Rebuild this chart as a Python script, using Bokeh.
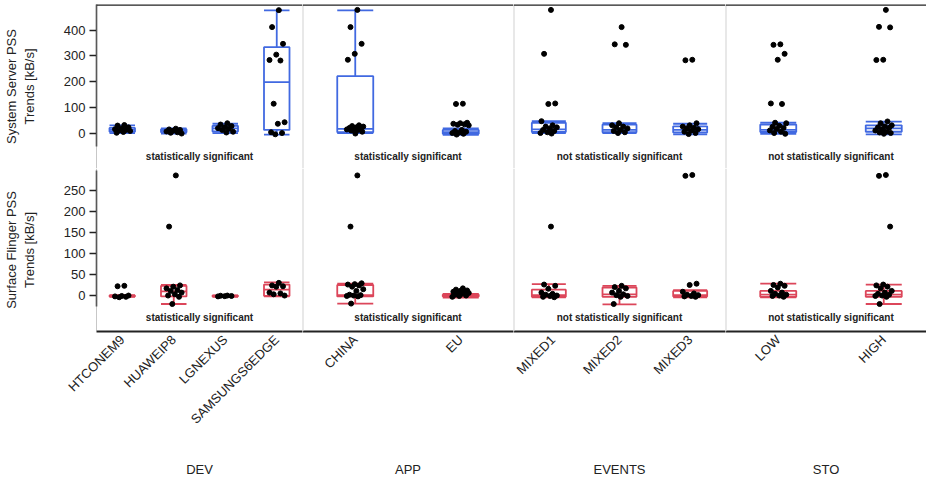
import math
from bokeh.plotting import figure
from bokeh.layouts import column, row
from bokeh.models import Range1d, FixedTicker, Span
from bokeh.core.properties import value
from bokeh.embed import file_html
from bokeh.resources import INLINE

# ---------------- data ----------------
GROUPS = ["DEV", "APP", "EVENTS", "STO"]
DEV_CATS = ["HTCONEM9", "HUAWEIP8", "LGNEXUS", "SAMSUNGS6EDGE"]
APP_CATS = ["CHINA", "EU"]
EVENTS_CATS = ["MIXED1", "MIXED2", "MIXED3"]
STO_CATS = ["LOW", "HIGH"]
GROUP_CATS = [DEV_CATS, APP_CATS, EVENTS_CATS, STO_CATS]
SIGNIFICANCE = ["statistically significant", "statistically significant",
                "not statistically significant", "not statistically significant"]
ROW_TITLES = ["System Server PSS\nTrends [kB/s]", "Surface Flinger PSS\nTrends [kB/s]"]
SS_TICKS = [0, 100, 200, 300, 400]
SF_TICKS = [0, 50, 100, 150, 200, 250]

# System Server PSS box statistics (category order: DEV, APP, EVENTS, STO)
SS_LOW = [0, -2, 0, -6, 0, -7, 0, 0, -5, -3, -5]
SS_Q1 = [5, 3, 6, 12, 3, -3, 4, 3, 2, 4, 5]
SS_MED = [12, 8, 18, 198, 16, 3, 14, 12, 12, 12, 18]
SS_Q3 = [20, 15, 28, 334, 221, 12, 40, 33, 26, 33, 30]
SS_HIGH = [30, 18, 36, 477, 477, 18, 46, 38, 36, 40, 44]
SS_POINTS = {
    "HTCONEM9": [31, 29, 22, 18, 15, 12, 10, 8, 4, 1],
    "HUAWEIP8": [17, 14, 12, 9, 6, 3, 1, -2],
    "LGNEXUS": [38, 33, 27, 22, 19, 17, 12, 5, 2],
    "SAMSUNGS6EDGE": [478, 412, 347, 305, 284, 282, 114, 42, 36, 3, 0, -5],
    "CHINA": [479, 412, 347, 308, 285, 30, 27, 25, 22, 20, 18, 16, 14, 12, 10, 5, -2],
    "EU": [114, 113, 40, 38, 36, 34, 32, 30, 12, 8, 5, 2, 0, -3, -6],
    "MIXED1": [479, 308, 115, 113, 46, 30, 25, 22, 18, 12, 8, 3, 0, -2],
    "MIXED2": [412, 345, 343, 38, 30, 25, 22, 18, 12, 8, 3, 0],
    "MIXED3": [285, 283, 38, 30, 25, 20, 18, 15, 10, 5, 0, -4],
    "LOW": [345, 343, 308, 285, 115, 113, 40, 38, 28, 24, 20, 16, 10, 5, 0, -3],
    "HIGH": [479, 413, 411, 285, 284, 45, 38, 30, 25, 22, 20, 15, 10, 5, 2, 0, -3],
}

# Surface Flinger PSS box statistics
SF_LOW = [-2, -19, -2, -1, -18, -4, -3, -20, -3, -3, -19]
SF_Q1 = [-1, -1, -1, 0, -1, -1, -2, -2, -1, -2, -2]
SF_MED = [0, 11, 0, 15, 2, 1, 2, 4, 2, 3, 3]
SF_Q3 = [1, 24, 1, 27, 26, 3, 15, 20, 12, 12, 12]
SF_HIGH = [2, 26, 1.5, 32, 29, 5, 28, 24, 14, 29, 27]
SF_POINTS = {
    "HTCONEM9": [24, 23, 1, 0, -1, -2, -3],
    "HUAWEIP8": [285, 164, 25, 22, 18, 14, 12, 8, 4, 1, -2, -19],
    "LGNEXUS": [1, 0.5, 0, -0.5, -1],
    "SAMSUNGS6EDGE": [31, 25, 23, 22, 8, 6, 4, 1],
    "CHINA": [285, 164, 30, 28, 27, 25, 22, 16, 12, 3, 2, 1, 0, -1, -18],
    "EU": [18, 15, 13, 12, 10, 9, 8, 7, 5, 3, 1, 0, -2],
    "MIXED1": [164, 27, 24, 17, 8, 5, 3, 1, 0, -2, -3],
    "MIXED2": [24, 21, 18, 12, 8, 4, 2, 0, -2, -19],
    "MIXED3": [286, 284, 29, 26, 10, 6, 3, 2, 0, -1, -2],
    "LOW": [29, 26, 24, 20, 12, 8, 5, 3, 1, 0, -2],
    "HIGH": [286, 284, 164, 27, 25, 22, 18, 12, 8, 5, 3, 1, 0, -2, -19],
}

# ---------------- layout / style ----------------
FONT = "Liberation Sans"
INK = "#222222"
BLUE = "#4169e1"
RED = "#dc465a"
NOMINAL_PANEL_W = [210, 211, 212, 211]
VISIBLE_PANEL_W = [210, 211, 212, 201]
LEFT_W = 92
TOP_PAD = 4
TOP_FRAME_H = 164
BOT_FRAME_H = 165
BOT_AXIS_H = 147
BOX_PX = [26, 36, 34, 36]
JITTER_PX = 9
GROUP_LABEL_STANDOFF = [27, 82, 77, 88]

ROWS = [
    dict(low=SS_LOW, q1=SS_Q1, med=SS_MED, q3=SS_Q3, high=SS_HIGH, pts=SS_POINTS,
         color=BLUE, yr=(-138, 500), bounds=(-52, 500), ticks=SS_TICKS, text_y=-91),
    dict(low=SF_LOW, q1=SF_Q1, med=SF_MED, q3=SF_Q3, high=SF_HIGH, pts=SF_POINTS,
         color=RED, yr=(-84, 301.4), bounds=(-26, 297), ticks=SF_TICKS, text_y=-51),
]


def golden(k):
    return ((k + 1) * 0.6180339887498949) % 1.0 - 0.5


def build(row_i, gi):
    cfg = ROWS[row_i]
    cats = GROUP_CATS[gi]
    n = len(cats)
    off = sum(len(c) for c in GROUP_CATS[:gi])
    unit_px = NOMINAL_PANEL_W[gi] / n
    x_end = VISIBLE_PANEL_W[gi] / unit_px
    left = gi == 0
    bottom = row_i == 1

    p = figure(width=VISIBLE_PANEL_W[gi] + (LEFT_W if left else 0),
               height=(BOT_FRAME_H + BOT_AXIS_H) if bottom else (TOP_FRAME_H + TOP_PAD),
               x_range=Range1d(0, x_end), y_range=Range1d(*cfg["yr"]),
               x_axis_location="below" if bottom else None,
               y_axis_location="left" if left else None,
               tools="", toolbar_location=None, output_backend="svg",
               min_border=0,
               min_border_left=LEFT_W if left else 0,
               min_border_bottom=BOT_AXIS_H if bottom else 0,
               min_border_top=0 if bottom else TOP_PAD, min_border_right=0)
    p.outline_line_color = None
    p.background_fill_color = "white"
    p.border_fill_color = "white"
    for g in p.grid:
        g.visible = False

    # panel dividers
    p.add_layout(Span(location=0, dimension="height",
                      line_color="#8f8f8f" if left else "#d2d2d2",
                      line_width=1 if left else 2))
    if not bottom:
        p.add_layout(Span(location=cfg["yr"][1], dimension="width",
                          line_color=INK, line_width=2.5))

    xs = [i + 0.5 for i in range(n)]
    half = BOX_PX[gi] / unit_px / 2
    lefts = [x - half for x in xs]
    rights = [x + half for x in xs]
    low = cfg["low"][off:off + n]
    q1 = cfg["q1"][off:off + n]
    med = cfg["med"][off:off + n]
    q3 = cfg["q3"][off:off + n]
    high = cfg["high"][off:off + n]
    col = cfg["color"]
    lw = 1.8
    p.segment(x0=xs, y0=q3, x1=xs, y1=high, line_color=col, line_width=lw)
    p.segment(x0=xs, y0=low, x1=xs, y1=q1, line_color=col, line_width=lw)
    p.segment(x0=lefts, y0=high, x1=rights, y1=high, line_color=col, line_width=lw)
    p.segment(x0=lefts, y0=low, x1=rights, y1=low, line_color=col, line_width=lw)
    p.quad(left=lefts, right=rights, bottom=q1, top=q3, fill_color=None,
           line_color=col, line_width=lw)
    p.segment(x0=lefts, y0=med, x1=rights, y1=med, line_color=col, line_width=lw)

    px, py = [], []
    for i, c in enumerate(cats):
        for k, v in enumerate(cfg["pts"][c]):
            px.append(xs[i] + golden(k) * 2 * JITTER_PX / unit_px)
            py.append(v)
    p.scatter(px, py, size=5, fill_color="black", line_color="black")

    p.text(x=[n / 2], y=[cfg["text_y"]], text=[SIGNIFICANCE[gi]],
           text_font=value(FONT), text_font_size="10px", text_font_style="bold",
           text_align="center", text_baseline="middle", text_color=INK)

    if left:
        ax = p.yaxis[0]
        ax.ticker = FixedTicker(ticks=cfg["ticks"])
        ax.bounds = cfg["bounds"]
        ax.axis_label = ROW_TITLES[row_i]
        ax.axis_label_text_font = FONT
        ax.axis_label_text_font_size = "13px"
        ax.axis_label_text_font_style = "normal"
        ax.axis_label_text_color = INK
        ax.axis_label_standoff = 24
        ax.major_label_text_font = FONT
        ax.major_label_text_font_size = "13px"
        ax.major_label_text_color = INK
        ax.major_label_standoff = 4
        ax.major_tick_out = 7
        ax.major_tick_in = 0
        ax.major_tick_line_color = INK
        ax.major_tick_line_width = 1.5
        ax.minor_tick_line_color = None
        ax.axis_line_color = INK
        ax.axis_line_width = 1.5

    if bottom:
        xa = p.xaxis[0]
        xa.ticker = FixedTicker(ticks=xs)
        xa.major_label_overrides = {x: c for x, c in zip(xs, cats)}
        xa.major_label_orientation = math.pi / 4
        xa.major_label_text_font = FONT
        xa.major_label_text_font_size = "13px"
        xa.major_label_text_color = INK
        xa.major_label_standoff = 6
        xa.major_tick_out = 0
        xa.major_tick_in = 0
        xa.major_tick_line_color = None
        xa.minor_tick_line_color = None
        xa.axis_line_color = INK
        xa.axis_line_width = 2
        xa.axis_label = GROUPS[gi]
        xa.axis_label_text_font = FONT
        xa.axis_label_text_font_size = "13px"
        xa.axis_label_text_font_style = "normal"
        xa.axis_label_text_color = INK
        xa.axis_label_standoff = GROUP_LABEL_STANDOFF[gi]
    return p


top = [build(0, gi) for gi in range(4)]
bot = [build(1, gi) for gi in range(4)]
layout = column(row(*top), row(*bot))

open("out.html", "w").write(file_html(layout, INLINE))
